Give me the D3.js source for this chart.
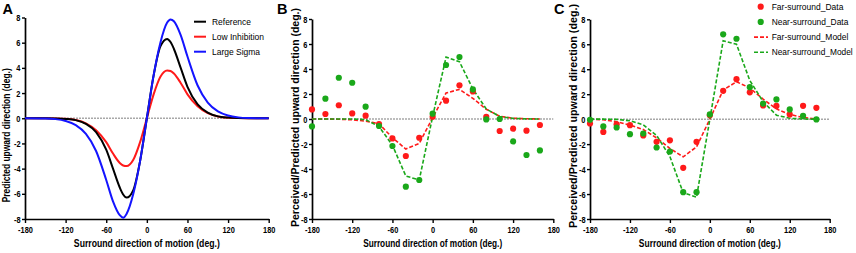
<!DOCTYPE html>
<html><head><meta charset="utf-8">
<script src="https://cdn.jsdelivr.net/npm/d3@7"></script>
<style>body{margin:0;background:#fff}svg{display:block}text{font-family:"Liberation Sans",Arial,sans-serif}</style>
</head><body><svg id="c" width="856" height="253"></svg>
<script>
// ---- data ----
const xTicks = [-180, -120, -60, 0, 60, 120, 180];
const yTicks = [-8, -6, -4, -2, 0, 2, 4, 6, 8];

// Panel A (model predictions)
const aX = [-180,-150,-135,-120,-105,-90,-75,-60,-50,-40,-35,-30,-20,-10,0,10,20,30,35,40,50,60,75,90,105,120,135,150,180];
const aReference = [0,0,-0.01,-0.05,-0.15,-0.45,-1.1,-2.5,-4.0,-5.5,-6.05,-6.3,-5.7,-3.4,0,3.4,5.7,6.3,6.05,5.5,4.0,2.5,1.1,0.45,0.15,0.05,0.01,0,0];
const aLowInhibition = [0,0,-0.01,-0.04,-0.14,-0.4,-0.95,-1.9,-2.8,-3.55,-3.75,-3.8,-3.3,-1.9,0,1.9,3.3,3.8,3.75,3.55,2.8,1.9,0.95,0.4,0.14,0.04,0.01,0,0];
const aLargeSigma = [0,-0.02,-0.07,-0.22,-0.55,-1.25,-2.6,-4.9,-6.6,-7.7,-7.9,-7.6,-6.0,-3.4,0,3.4,6.0,7.6,7.85,7.7,6.6,4.9,2.6,1.25,0.55,0.22,0.07,0.02,0];
const aSeriesNames = ["Reference", "Low Inhibition", "Large Sigma"];

// Panels B and C (data + model)
const bcX = [-180,-160,-140,-120,-100,-80,-60,-40,-20,0,20,40,60,80,100,120,140,160];
const bFarData   = [0.77,0.4,1.1,0.45,0.27,-0.4,-1.55,-2.96,-1.5,0.18,1.47,2.7,2.2,0.18,-0.96,-0.77,-0.93,-0.48];
const bNearData  = [-0.59,1.63,3.3,2.9,0.99,-0.56,-2.16,-5.41,-4.88,0.43,4.32,4.96,2.37,-0.03,0.0,-1.79,-2.88,-2.51];
const bFarModel  = [0,0,-0.02,-0.06,-0.17,-0.38,-1.5,-2.4,-1.95,0.1,2.08,2.37,1.65,0.78,0.22,0.06,0.02,0];
const bNearModel = [0,0,0,0,-0.05,-0.6,-2.1,-4.56,-4.88,0.2,4.95,4.58,2.4,0.8,0.2,0.05,0.01,0];
const cFarData   = [-0.35,-1.02,-0.42,-0.48,-1.3,-1.82,-1.7,-3.9,-1.82,0.32,2.27,3.2,2.15,1.1,1.06,0.38,1.07,0.91];
const cNearData  = [-0.05,-0.58,-0.67,-1.2,-1.15,-2.27,-2.6,-5.85,-5.85,0.38,6.8,6.44,2.56,1.25,1.58,0.78,0.26,-0.02];
const cFarModel  = [0,-0.05,-0.21,-0.48,-0.83,-1.5,-2.35,-3.02,-2.22,0,2.33,3.0,2.5,1.6,0.82,0.38,0.13,0.02];
const cNearModel = [0,0,-0.02,-0.13,-0.45,-1.3,-3.0,-5.9,-6.25,0,6.28,6.0,3.1,1.4,0.32,0.07,0.01,0];
const bcSeriesNames = ["Far-surround_Data", "Near-surround_Data", "Far-surround_Model", "Near-surround_Model"];

const RED = "#ff1a1a", GREEN = "#1aa81a", BLUE = "#1414ff", BLACK = "#000";

// ---- drawing ----
const svg = d3.select("#c");

function fitText(sel, w) { sel.each(function(){ this.setAttribute("textLength", w); this.setAttribute("lengthAdjust", "spacingAndGlyphs"); }); }
function squeeze(sel, f) { sel.each(function(){ const L = this.getComputedTextLength(); this.setAttribute("textLength", L * f); this.setAttribute("lengthAdjust", "spacingAndGlyphs"); }); }

function panel(p) {
  const g = svg.append("g");
  const x = d3.scaleLinear().domain([-180, 180]).range([p.x0, p.x1]);
  const y = d3.scaleLinear().domain([-8, 8]).range([p.yBot, p.yTop]);
  // zero line
  g.append("line").attr("x1", x(-180)).attr("x2", x(180)).attr("y1", y(0)).attr("y2", y(0))
    .attr("stroke", "#a8a8a8").attr("stroke-width", 1.5).attr("stroke-dasharray", "2,1");
  // axes
  const xa = g.append("g").attr("transform", `translate(0,${p.yBot})`)
    .call(d3.axisBottom(x).tickValues(xTicks).tickSize(4).tickSizeOuter(0).tickPadding(3.5).tickFormat(d => String(d)));
  const ya = g.append("g").attr("transform", `translate(${p.x0},0)`)
    .call(d3.axisLeft(y).tickValues(yTicks).tickSize(3).tickSizeOuter(0).tickPadding(1.5).tickFormat(d => String(d)));
  [xa, ya].forEach(a => {
    a.select(".domain").attr("stroke", "#000").attr("stroke-width", 1.7);
    a.selectAll(".tick line").attr("stroke", "#000").attr("stroke-width", 1.4);
    a.selectAll(".tick text").attr("font-size", 9.5).attr("font-weight", "bold").attr("fill", "#000")
      .attr("font-family", '"Liberation Sans",Arial,sans-serif');
  });
  squeeze(xa.selectAll(".tick text"), 0.78);
  squeeze(ya.selectAll(".tick text"), 0.78);
  // titles
  const xt = g.append("text").attr("x", x(0)).attr("y", 247).attr("text-anchor", "middle")
    .attr("font-size", 11).attr("font-weight", "bold").text("Surround direction of motion (deg.)");
  fitText(xt, p.xTitleW);
  const yt = g.append("text").attr("transform", `translate(${p.yTitleX},${p.yTitleY}) rotate(-90)`)
    .attr("text-anchor", "middle").attr("dy", "0.35em").attr("font-size", 10).attr("font-weight", "bold").text(p.yTitle);
  fitText(yt, p.yTitleW);
  svg.append("text").attr("x", p.letterX).attr("y", 13.5).attr("font-size", 14.5).attr("font-weight", "bold").text(p.letter);
  return {g, x, y};
}

// Panel A
const A = panel({x0: 25, x1: 268.7, yTop: 17.5, yBot: 219, xTitleW: 146, yTitle: "Predicted upward direction (deg.)",
  yTitleX: 6, yTitleY: 135.3, yTitleW: 134, letter: "A", letterX: 2.5});
const aSeries = [aReference, aLowInhibition, aLargeSigma];
const aColors = [BLACK, RED, BLUE];
const lineA = d3.line().x((d, i) => A.x(aX[i])).y(d => A.y(d)).curve(d3.curveMonotoneX);
[1, 0, 2].forEach(k => {
  A.g.append("path").attr("d", lineA(aSeries[k])).attr("fill", "none").attr("stroke", aColors[k]).attr("stroke-width", 2);
});
const legA = svg.append("g");
const legAW = [39, 52, 48];
aSeriesNames.forEach((n, i) => {
  const yy = 21.7 + i * 15;
  legA.append("line").attr("x1", 194).attr("x2", 206).attr("y1", yy).attr("y2", yy).attr("stroke", aColors[i]).attr("stroke-width", 2);
  const t = legA.append("text").attr("x", 212).attr("y", yy).attr("dy", "0.35em")
    .attr("font-size", 9.2).text(n);
  fitText(t, legAW[i]);
});

// Panels B and C
function dataPanel(P, far, near, farM, nearM) {
  const ln = d3.line().x((d, i) => P.x(bcX[i])).y(d => P.y(d));
  P.g.append("path").attr("d", ln(farM)).attr("fill", "none").attr("stroke", RED).attr("stroke-width", 1.6).attr("stroke-dasharray", "4,2");
  P.g.append("path").attr("d", ln(nearM)).attr("fill", "none").attr("stroke", GREEN).attr("stroke-width", 1.6).attr("stroke-dasharray", "4,2");
  P.g.append("g").selectAll("circle").data(far).join("circle")
    .attr("cx", (d, i) => P.x(bcX[i])).attr("cy", d => P.y(d)).attr("r", 3.1).attr("fill", RED);
  P.g.append("g").selectAll("circle").data(near).join("circle")
    .attr("cx", (d, i) => P.x(bcX[i])).attr("cy", d => P.y(d)).attr("r", 3.1).attr("fill", GREEN);
}
const B = panel({x0: 312, x1: 553.3, yTop: 19, yBot: 219, xTitleW: 139, yTitle: "Perceived/Predicted upward direction (deg.)",
  yTitleX: 295.3, yTitleY: 117.5, yTitleW: 219, letter: "B", letterX: 277});
dataPanel(B, bFarData, bNearData, bFarModel, bNearModel);
const C = panel({x0: 590, x1: 829.7, yTop: 19.3, yBot: 219, xTitleW: 142, yTitle: "Perceived/Predicted upward direction (deg.)",
  yTitleX: 573.5, yTitleY: 116, yTitleW: 224, letter: "C", letterX: 554});
dataPanel(C, cFarData, cNearData, cFarModel, cNearModel);

// Legend C
const legC = svg.append("g");
const legCW = [71.7, 76.7, 76.7, 81];
const legCCol = [RED, GREEN, RED, GREEN];
bcSeriesNames.forEach((n, i) => {
  const yy = 6.7 + i * 15.2;
  if (i < 2) legC.append("circle").attr("cx", 760.7).attr("cy", yy).attr("r", 3.1).attr("fill", legCCol[i]);
  else legC.append("line").attr("x1", 754).attr("x2", 768).attr("y1", yy).attr("y2", yy)
    .attr("stroke", legCCol[i]).attr("stroke-width", 1.6).attr("stroke-dasharray", "4,2");
  const t = legC.append("text").attr("x", 771.7).attr("y", yy).attr("dy", "0.35em")
    .attr("font-size", 8.6).text(n);
  fitText(t, legCW[i]);
});
</script></body></html>
